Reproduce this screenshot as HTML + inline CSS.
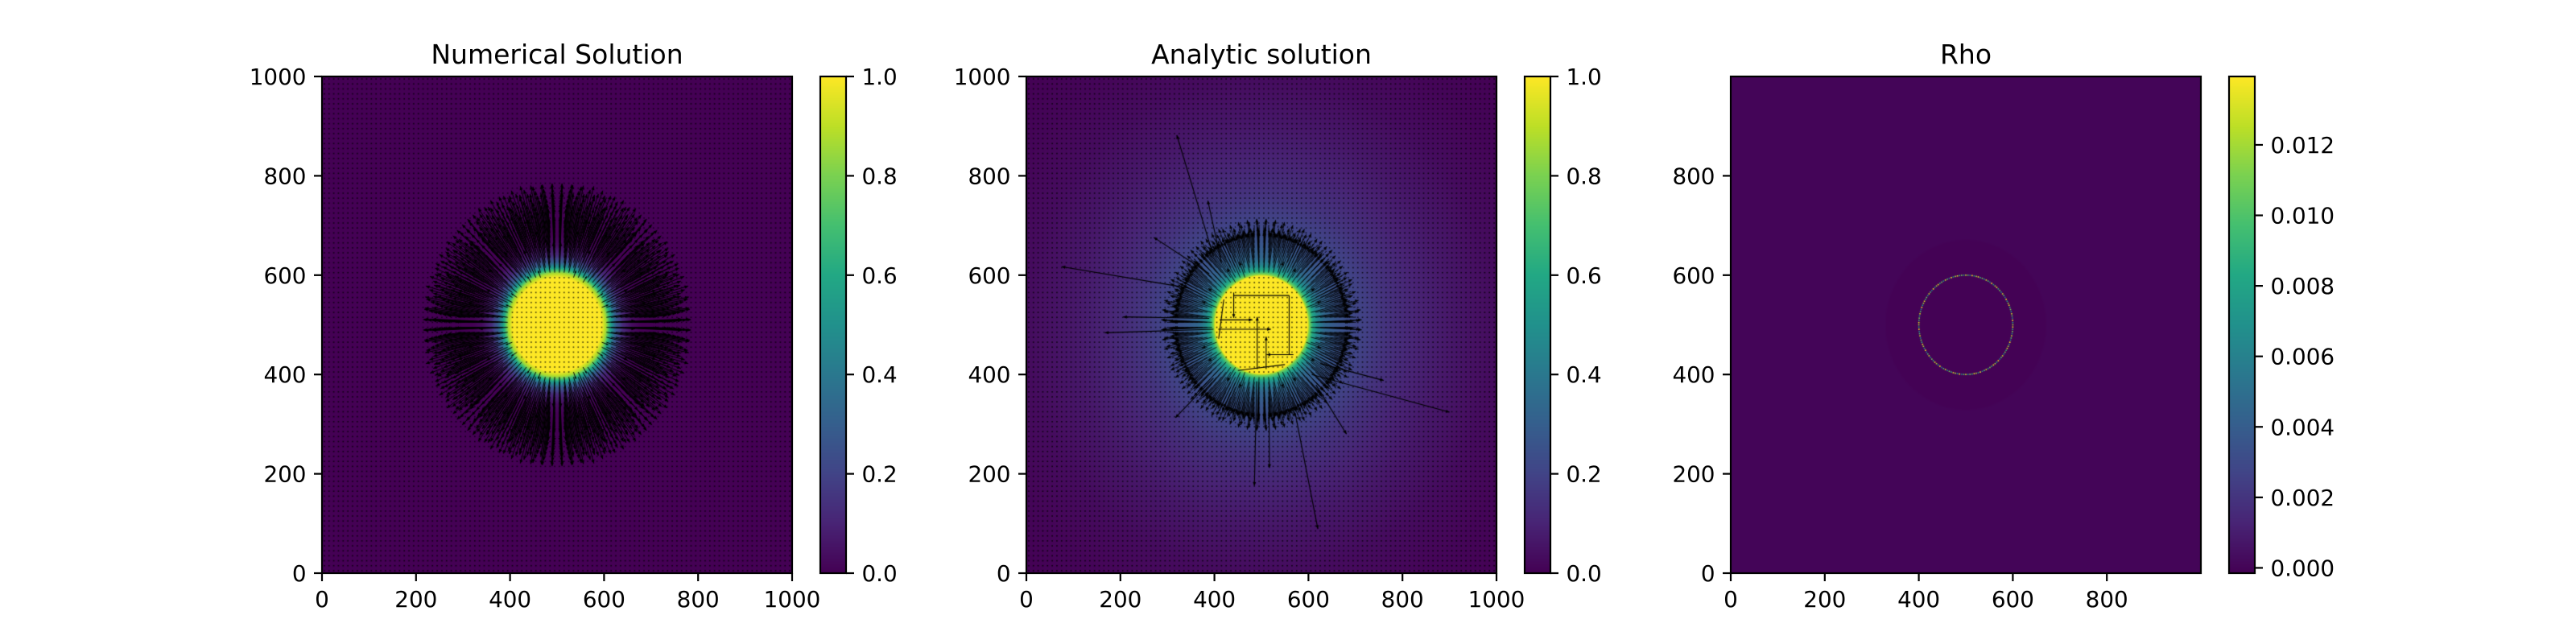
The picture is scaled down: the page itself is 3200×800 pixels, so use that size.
<!DOCTYPE html>
<html><head><meta charset="utf-8">
<style>
html,body{margin:0;padding:0;background:#fff;}
#wrap{position:relative;width:3200px;height:800px;overflow:hidden;font-family:"DejaVu Sans","Liberation Sans",sans-serif;}
canvas{position:absolute;}
svg{position:absolute;left:0;top:0;}
</style></head>
<body>
<div id="wrap">
<canvas id="c0"></canvas>
<canvas id="c1"></canvas>
<canvas id="c2"></canvas>
<canvas id="cb0"></canvas>
<canvas id="cb1"></canvas>
<canvas id="cb2"></canvas>
<svg id="ov" width="3200" height="800"></svg>
</div>
<script>
// ---------- data ----------
const titles = ["Numerical Solution", "Analytic solution", "Rho"];
const xTicks0 = [0,200,400,600,800,1000];
const yTicks0 = [0,200,400,600,800,1000];
const xTicks2 = [0,200,400,600,800];
const yTicks2 = [0,200,400,600,800];
const cbTicks01 = [0.0,0.2,0.4,0.6,0.8,1.0];
const cbLabels01 = ["0.0","0.2","0.4","0.6","0.8","1.0"];
const cbTicks2 = [0.000,0.002,0.004,0.006,0.008,0.010,0.012];
const cbLabels2 = ["0.000","0.002","0.004","0.006","0.008","0.010","0.012"];
const rhoRange = [-0.00015, 0.01394];
const center = [500,500];
// radial profiles
const numR = [0,95,105,115,125,140,160,180,2000];
const numV = [1,1,0.85,0.55,0.3,0.12,0.03,0,0];
const anaR = [0,98,102,110,120,135,160,200,260,330,400,500,600,720,2000];
const anaV = [1,1,0.8,0.6,0.45,0.33,0.27,0.21,0.15,0.1,0.065,0.03,0.012,0,0];
const rhoR = [0,168,172,2000];
const rhoV = [-0.00012,-0.00012,0,0];
const rhoRingRadius = [100];
const rhoRingValues = [0.012,0.008,0.0139,0.006,0.010,0.013,0.007,0.011,0.009,0.0135];
// quiver arrow-length profiles (data units)
const numArrR = [100,105,115,130,150,170,190,200];
const numArrL = [0,60,150,160,120,80,40,0];
const anaArrR = [100,104,115,130,150,170,190,210];
const anaArrL = [0,110,95,60,35,20,8,0];
// analytic outlier arrows: [x0,y0,x1,y1,head]
const anaOutliers = [
 [398,638,320,882,1],[346,574,75,617,1],[607,400,900,324,1],[572,321,620,89,1],
 [490,386,485,176,1],[516,357,517,212,1],[398,491,167,484,1],[389,513,206,516,1],
 [389,603,271,676,1],[415,625,386,750,1],[625,422,760,388,1],[616,379,681,280,1],
 [398,393,317,313,1],[441,565,441,514,1],[411,510,481,510,1],[408,491,520,491,1],
 [491,411,491,516,1],[510,411,510,476,1],[568,440,511,440,1],[441,559,559,559,0],
 [559,559,559,440,0],[450,408,550,420,0],[420,551,409,472,0]
];
// ---------- layout ----------
const PL=[400,1275,2150], PT=95, PW=584, PH=617, CBOFF=619, CBW=32;
const VIR=[[68,1,84],[72,36,117],[65,68,135],[53,95,141],[42,120,142],[33,145,140],[34,168,132],[68,191,112],[122,209,81],[189,223,38],[253,231,37]];
function vir(t){t=Math.max(0,Math.min(1,t));const f=t*10,i=Math.min(9,Math.floor(f)),u=f-i;const a=VIR[i],b=VIR[i+1];return [a[0]+(b[0]-a[0])*u,a[1]+(b[1]-a[1])*u,a[2]+(b[2]-a[2])*u];}
function interp(xs,ys,x){if(x<=xs[0])return ys[0];for(let i=1;i<xs.length;i++){if(x<=xs[i]){const u=(x-xs[i-1])/(xs[i]-xs[i-1]);return ys[i-1]+(ys[i]-ys[i-1])*u;}}return ys[ys.length-1];}
const sx=(v)=>v/1000*PW, sy=(v)=>PH-v/1000*PH;

function heat(id,i,R,V,lo,hi){
  const c=document.getElementById(id);c.width=PW;c.height=PH;c.style.left=PL[i]+'px';c.style.top=PT+'px';
  const ctx=c.getContext('2d');const im=ctx.createImageData(PW,PH);
  for(let py=0;py<PH;py++){const dy=(PH-py-0.5)/PH*1000-center[1];
    for(let px=0;px<PW;px++){const dx=(px+0.5)/PW*1000-center[0];const r=Math.sqrt(dx*dx+dy*dy);
      const v=interp(R,V,r);const col=vir((v-lo)/(hi-lo));const k=(py*PW+px)*4;
      im.data[k]=col[0];im.data[k+1]=col[1];im.data[k+2]=col[2];im.data[k+3]=255;}}
  ctx.putImageData(im,0,0);return ctx;
}
function arrow(ctx,x0,y0,x1,y1,head,lw){
  const X0=sx(x0),Y0=sy(y0),X1=sx(x1),Y1=sy(y1);
  const len=Math.hypot(X1-X0,Y1-Y0);
  ctx.lineWidth=lw;ctx.beginPath();ctx.moveTo(X0,Y0);ctx.lineTo(X1,Y1);ctx.stroke();
  if(head){const s=Math.min(1,len/15),a=Math.atan2(Y1-Y0,X1-X0),h=4.5*s,w=2*s;
    ctx.beginPath();ctx.moveTo(X1,Y1);
    ctx.lineTo(X1-h*Math.cos(a)+w*Math.sin(a),Y1-h*Math.sin(a)-w*Math.cos(a));
    ctx.lineTo(X1-h*Math.cos(a)-w*Math.sin(a),Y1-h*Math.sin(a)+w*Math.cos(a));ctx.closePath();ctx.fill();}
}
function quiver(ctx,AR,AL,dotAlpha,lw,alpha){
  ctx.strokeStyle='#000';ctx.fillStyle='#000';
  for(let gx=5;gx<1000;gx+=10)for(let gy=5;gy<1000;gy+=10){
    const dx=gx-center[0],dy=gy-center[1],r=Math.sqrt(dx*dx+dy*dy);
    const L=interp(AR,AL,r);
    if(L>2){ctx.globalAlpha=alpha;arrow(ctx,gx,gy,gx+dx/r*L,gy+dy/r*L,1,lw);ctx.globalAlpha=1;}
    else{ctx.globalAlpha=dotAlpha;ctx.fillRect(sx(gx)-0.8,sy(gy)-0.8,1.6,1.6);ctx.globalAlpha=1;}
  }
}
const k0=heat('c0',0,numR,numV,0,1);quiver(k0,numArrR,numArrL,0.75,1.0,1);
const k1=heat('c1',1,anaR,anaV,0,1);quiver(k1,anaArrR,anaArrL,0.8,0.9,0.9);
anaOutliers.forEach(a=>arrow(k1,a[0],a[1],a[2],a[3],a[4],1.1));
const k2=heat('c2',2,rhoR,rhoV,rhoRange[0],rhoRange[1]);
(function(){const n=140;for(let j=0;j<n;j++){const th=j/n*2*Math.PI;const v=rhoRingValues[j%rhoRingValues.length];
  const col=vir((v-rhoRange[0])/(rhoRange[1]-rhoRange[0]));k2.fillStyle='rgb('+col.map(Math.round).join(',')+')';
  const r=rhoRingRadius[0];k2.fillRect(sx(center[0]+r*Math.cos(th))-0.8,sy(center[1]+r*Math.sin(th))-0.8,1.6,1.6);}})();
function cbar(id,i){const c=document.getElementById(id);c.width=CBW;c.height=PH;c.style.left=(PL[i]+CBOFF)+'px';c.style.top=PT+'px';
  const ctx=c.getContext('2d');for(let y=0;y<PH;y++){const col=vir(1-y/(PH-1));ctx.fillStyle='rgb('+col.map(Math.round).join(',')+')';ctx.fillRect(0,y,CBW,1);}}
cbar('cb0',0);cbar('cb1',1);cbar('cb2',2);
// ---------- axes overlay ----------
const svg=document.getElementById('ov');const NS='http://www.w3.org/2000/svg';
function el(tag,attrs,parent){const e=document.createElementNS(NS,tag);for(const k in attrs)e.setAttribute(k,attrs[k]);(parent||svg).appendChild(e);return e;}
const pnames=['numerical','analytic','rho'];
for(let i=0;i<3;i++){
  const L=PL[i],g=el('g',{});
  
  
  const t=el('text',{x:L+PW/2,y:79,'font-size':33,'text-anchor':'middle',fill:'#000'},g);t.textContent=titles[i];
  
  
  const fr=el('rect',{x:L,y:PT,width:PW,height:PH,fill:'none',stroke:'#000','stroke-width':2.2},g);
  
  
  const xt=i==2?xTicks2:xTicks0, yt=i==2?yTicks2:yTicks0;
  xt.forEach(v=>{const X=L+sx(v);el('line',{x1:X,x2:X,y1:PT+PH,y2:PT+PH+10,stroke:'#000','stroke-width':2.2},g);
    const tx=el('text',{x:X,y:754,'font-size':27.8,'text-anchor':'middle'},g);tx.textContent=v;
    
    });
  yt.forEach(v=>{const Y=PT+sy(v);el('line',{x1:L-10,x2:L,y1:Y,y2:Y,stroke:'#000','stroke-width':2.2},g);
    const ty=el('text',{x:L-19.5,y:Y+10,'font-size':27.8,'text-anchor':'end'},g);ty.textContent=v;
    
    });
  const cx=L+CBOFF;
  const cf=el('rect',{x:cx,y:PT,width:CBW,height:PH,fill:'none',stroke:'#000','stroke-width':2.2},g);
  
  
  const tk=i==2?cbTicks2:cbTicks01, lb=i==2?cbLabels2:cbLabels01, lo=i==2?rhoRange[0]:0, hi=i==2?rhoRange[1]:1;
  tk.forEach((v,j)=>{const Y=PT+PH-(v-lo)/(hi-lo)*PH;el('line',{x1:cx+CBW,x2:cx+CBW+10,y1:Y,y2:Y,stroke:'#000','stroke-width':2.2},g);
    const tl=el('text',{x:cx+CBW+19.5,y:Y+10,'font-size':27.8,'text-anchor':'start'},g);tl.textContent=lb[j];
    
    });
}
</script>
</body></html>
